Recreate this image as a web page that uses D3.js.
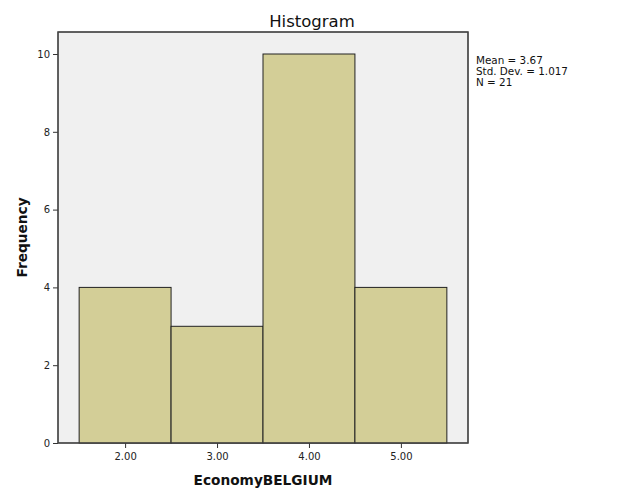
<!DOCTYPE html>
<html><head><meta charset="utf-8">
<script src="https://cdn.jsdelivr.net/npm/d3@7"></script>
<style>body{margin:0;background:#fff}svg{display:block}text{font-family:"DejaVu Sans",sans-serif}</style>
</head><body><svg id="c" width="626" height="501"></svg>
<script>
const binStarts = [1.5, 2.5, 3.5, 4.5];
const binEnds = [2.5, 3.5, 4.5, 5.5];
const frequencies = [4, 3, 10, 4];
const xTicks = [2, 3, 4, 5];
const yTicks = [0, 2, 4, 6, 8, 10];
const statsLines = ["Mean = 3.67", "Std. Dev. = 1.017", "N = 21"];

const svg = d3.select("#c");
const L = 58, R = 468, T = 32, B = 443;
const x = d3.scaleLinear().domain([1.27, 5.73]).range([L, R]);
const y = d3.scaleLinear().domain([0, 10]).range([B, 54]);

svg.append("rect").attr("x", L).attr("y", T).attr("width", R - L).attr("height", B - T)
  .attr("fill", "#f0f0f0").attr("stroke", "#444").attr("stroke-width", 1.2);

svg.selectAll("rect.bar").data(frequencies).enter().append("rect").attr("class", "bar")
  .attr("x", (d, i) => x(binStarts[i]))
  .attr("y", d => y(d))
  .attr("width", (d, i) => x(binEnds[i]) - x(binStarts[i]))
  .attr("height", d => y(0) - y(d))
  .attr("fill", "#d3ce97").attr("stroke", "#222").attr("stroke-width", 1);

const yAxis = d3.axisLeft(y).tickValues(yTicks).tickFormat(d3.format("d")).tickSize(5).tickPadding(3);
const gy = svg.append("g").attr("transform", `translate(${L},0)`).call(yAxis);
gy.select(".domain").remove();
gy.selectAll("line").attr("stroke", "#333");
gy.selectAll("text").attr("font-size", 10).attr("fill", "#222");

const xAxis = d3.axisBottom(x).tickValues(xTicks).tickFormat(d3.format(".2f")).tickSize(5).tickPadding(5);
const gx = svg.append("g").attr("transform", `translate(0,${B})`).call(xAxis);
gx.select(".domain").remove();
gx.selectAll("line").attr("stroke", "#333");
gx.selectAll("text").attr("font-size", 10).attr("fill", "#222");

svg.append("rect").attr("x", L).attr("y", T).attr("width", R - L).attr("height", B - T)
  .attr("fill", "none").attr("stroke", "#444").attr("stroke-width", 1.2);

svg.append("text").attr("x", 312).attr("y", 27).attr("text-anchor", "middle")
  .attr("font-size", 16.5).attr("fill", "#111").text("Histogram");

svg.append("text").attr("x", (L + R) / 2).attr("y", 485).attr("text-anchor", "middle")
  .attr("font-size", 13.7).attr("font-weight", "bold").attr("fill", "#111").text("EconomyBELGIUM");

svg.append("text").attr("transform", `translate(27,${(T + B) / 2}) rotate(-90)`).attr("text-anchor", "middle")
  .attr("font-size", 13.7).attr("font-weight", "bold").attr("fill", "#111").text("Frequency");

svg.append("g").selectAll("text").data(statsLines).enter().append("text")
  .attr("x", 476).attr("y", (d, i) => 64 + i * 11)
  .attr("font-size", 10.4).attr("fill", "#111").text(d => d);
</script></body></html>
